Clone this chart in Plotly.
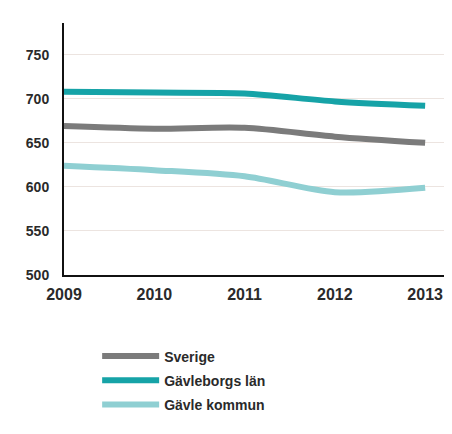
import plotly.graph_objects as go

years = [2009, 2010, 2011, 2012, 2013]
sverige = [669, 666, 667, 657, 650]
gavleborg = [708, 707, 706, 697, 692]
gavle = [624, 619, 612, 594, 599]

series = [
    ("Sverige", sverige, "#7b7b7b"),
    ("Gävleborgs län", gavleborg, "#16a3a7"),
    ("Gävle kommun", gavle, "#8fcfd2"),
]

fig = go.Figure()
for name, vals, col in series:
    fig.add_trace(go.Scatter(x=years, y=vals, name=name, mode="lines", legendgroup=name,
                             line=dict(color=col, width=6, shape="spline", smoothing=0.8)))

fnt = "Liberation Sans, Arial, sans-serif"
fig.update_layout(
    width=444, height=426,
    margin=dict(l=56, r=7, t=15, b=159, autoexpand=False),
    paper_bgcolor="white", plot_bgcolor="white",
    font=dict(family=fnt, size=14, color="#2a2a2a"),
    showlegend=True,
    legend=dict(x=0.087, y=-0.26, xanchor="left", yanchor="top",
                font=dict(family=fnt, size=14, color="#2a2a2a", weight="bold"),
                tracegroupgap=3, itemwidth=57, bgcolor="rgba(0,0,0,0)"),
    xaxis=dict(range=[2009, 2013.22], tickvals=years, ticktext=[str(y) for y in years],
               showgrid=False, zeroline=False, showline=True, linecolor="#111111",
               linewidth=2, ticks="", tickfont=dict(family=fnt, size=16, weight="bold"),
               ticklabelstandoff=4, automargin=False),
    yaxis=dict(range=[500, 786], tickvals=[500, 550, 600, 650, 700, 750],
               showgrid=True, gridcolor="#ece4e0", gridwidth=1, zeroline=False,
               showline=True, linecolor="#111111", linewidth=2, ticks="",
               tickfont=dict(family=fnt, size=14, weight="bold"),
               ticklabelstandoff=10, automargin=False),
)

fig.write_html("out.html")
